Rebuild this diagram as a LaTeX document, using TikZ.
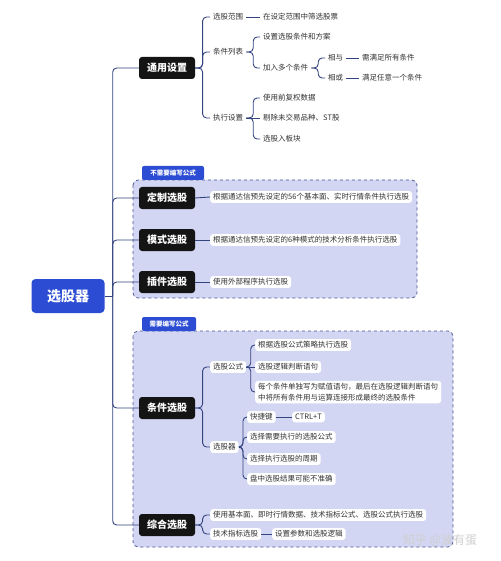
\documentclass[tikz,border=0pt]{standalone}
\usepackage{fontspec}
\setmainfont{Noto Sans CJK SC}
\usetikzlibrary{calc}
\definecolor{rootblue}{HTML}{2B4CD3}
\definecolor{navy}{HTML}{34447F}
\definecolor{lav}{HTML}{D3D6F3}
\definecolor{dashc}{HTML}{4A5690}
\definecolor{mainbk}{HTML}{141414}
\newcommand{\lnk}[2]{\draw[conn] (#1.east) -- ($(#1.east)!0.5!(#2.west |- #1.east)$) |- (#2.west);}
\newcommand{\slnk}[2]{\draw[conn] (#1.east) -- (#2.west);}
\begin{document}
\begin{tikzpicture}[x=1pt,y=-1pt,
 rootnode/.style={fill=rootblue, text=white, font=\fontsize{14}{16}\selectfont\bfseries, rounded corners=4, minimum width=73, minimum height=34, inner sep=0},
 mainnode/.style={fill=mainbk, text=white, font=\fontsize{10}{12}\selectfont\bfseries, rounded corners=3, minimum width=56, minimum height=22, inner sep=0},
 leaf/.style={anchor=west, font=\fontsize{7.5}{10.5}\selectfont, text=black!80, inner xsep=3, inner ysep=2.5},
 wleaf/.style={leaf, fill=white, rounded corners=3},
 tag/.style={fill=rootblue, text=white, font=\fontsize{6.5}{8}\selectfont\bfseries, rounded corners=2, inner sep=0, minimum height=14},
 conn/.style={draw=navy, line width=0.9pt, rounded corners=4},
 grp/.style={draw=dashc, dashed, line width=0.8pt, fill=lav, rounded corners=5}
]
\useasboundingbox (0,0) rectangle (500,561);
\fill[white] (0,0) rectangle (500,561);

% groups
\draw[grp] (133,180) rectangle (417,298);
\draw[grp] (133,331) rectangle (453,547);
\node[tag, minimum width=62] (tag1) at (173,173) {不需要编写公式};
\node[tag, minimum width=54] (tag2) at (169,324) {需要编写公式};

% root and main nodes
\node[rootnode] (root) at (68,296) {选股器};
\node[mainnode] (ty) at (167,68) {通用设置};
\node[mainnode] (dz) at (167,198) {定制选股};
\node[mainnode] (ms) at (167,240) {模式选股};
\node[mainnode] (cj) at (167,282) {插件选股};
\node[mainnode] (tj) at (167,408) {条件选股};
\node[mainnode] (zh) at (167,525) {综合选股};

\coordinate (trunk) at ($(root.east)+(8,0)$);
\draw[conn] (root.east) -- (trunk);
\foreach \m in {ty,dz,ms,cj,tj,zh}{\draw[conn] (trunk) |- (\m.west);}

% 通用设置
\node[leaf] (a1) at (210,17) {选股范围};
\node[leaf] (a2) at (210,52) {条件列表};
\node[leaf] (a3) at (210,118) {执行设置};
\node[leaf] (a11) at (260,17) {在设定范围中筛选股票};
\node[leaf] (a21) at (260,37) {设置选股条件和方案};
\node[leaf] (a22) at (260,68) {加入多个条件};
\node[leaf] (a221) at (325,58) {相与};
\node[leaf] (a2211) at (359,58) {需满足所有条件};
\node[leaf] (a222) at (325,78) {相或};
\node[leaf] (a2221) at (359,78) {满足任意一个条件};
\node[leaf] (a31) at (260,98) {使用前复权数据};
\node[leaf] (a32) at (260,118) {剔除未交易品种、ST股};
\node[leaf] (a33) at (260,139) {选股入板块};
\lnk{ty}{a1}\lnk{ty}{a2}\lnk{ty}{a3}
\slnk{a1}{a11}
\lnk{a2}{a21}\lnk{a2}{a22}
\lnk{a22}{a221}\lnk{a22}{a222}
\slnk{a221}{a2211}\slnk{a222}{a2221}
\lnk{a3}{a31}\slnk{a3}{a32}\lnk{a3}{a33}

% group 1
\node[wleaf] (b1) at (210,197) {根据通达信预先设定的56个基本面、实时行情条件执行选股};
\node[wleaf] (b2) at (210,240) {根据通达信预先设定的6种模式的技术分析条件执行选股};
\node[wleaf] (b3) at (210,282) {使用外部程序执行选股};
\slnk{dz}{b1}\slnk{ms}{b2}\slnk{cj}{b3}

% group 2
\node[wleaf] (c1) at (210,367) {选股公式};
\node[wleaf] (c2) at (210,447) {选股器};
\node[wleaf] (c11) at (255,345) {根据选股公式策略执行选股};
\node[wleaf] (c12) at (255,367) {选股逻辑判断语句};
\node[wleaf, align=left] (c13) at (255,392) {每个条件单独写为赋值语句，最后在选股逻辑判断语句\\中将所有条件用与运算连接形成最终的选股条件};
\node[wleaf] (c21) at (247,417) {快捷键};
\node[wleaf] (c211) at (292,417) {CTRL+T};
\node[wleaf] (c22) at (247,437) {选择需要执行的选股公式};
\node[wleaf] (c23) at (247,459) {选择执行选股的周期};
\node[wleaf] (c24) at (247,479) {盘中选股结果可能不准确};
\node[wleaf] (d1) at (210,515) {使用基本面、即时行情数据、技术指标公式、选股公式执行选股};
\node[wleaf] (d2) at (210,534) {技术指标选股};
\node[wleaf] (d21) at (272,534) {设置参数和选股逻辑};
\lnk{tj}{c1}\lnk{tj}{c2}
\lnk{c1}{c11}\slnk{c1}{c12}\lnk{c1}{c13}
\lnk{c2}{c21}\lnk{c2}{c22}\lnk{c2}{c23}\lnk{c2}{c24}
\slnk{c21}{c211}
\lnk{zh}{d1}\lnk{zh}{d2}
\slnk{d2}{d21}

% watermark
\node[font=\fontsize{12}{14}\selectfont, text=white!62!gray] (wm) at (440,540) {知乎 @波有蛋};
\end{tikzpicture}
\end{document}
